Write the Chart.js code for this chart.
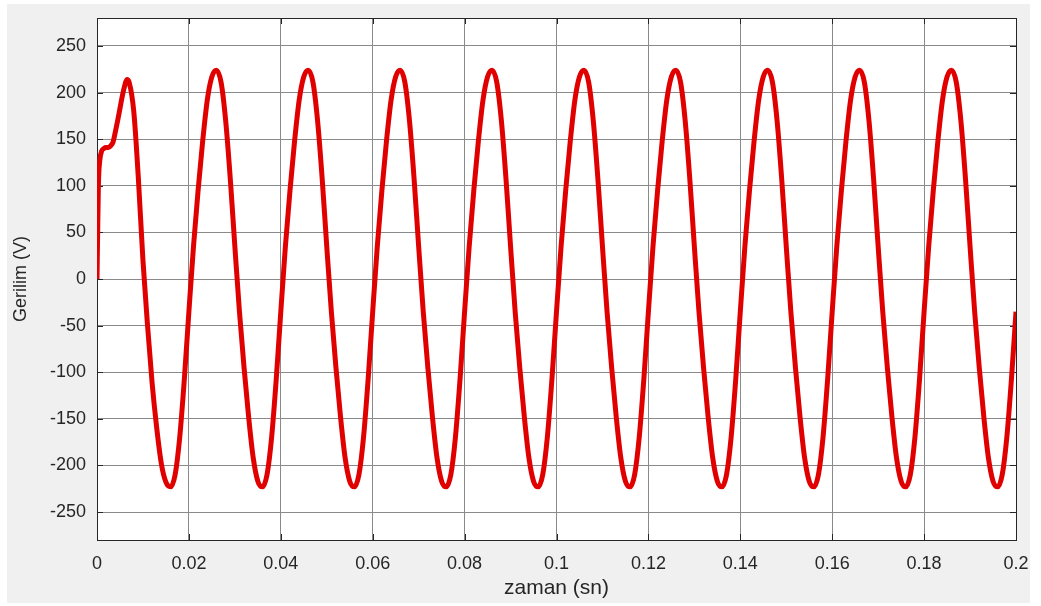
<!DOCTYPE html>
<html>
<head>
<meta charset="utf-8">
<title>Gerilim</title>
<script src="https://cdn.jsdelivr.net/npm/chart.js@4/dist/chart.umd.min.js"></script>
<style>
	html, body { margin: 0; padding: 0; background: #ffffff; }
	canvas { display: block; }
</style>
</head>
<body>
<canvas id="myChart" width="1041" height="606"></canvas>
<script>
// zaman (s)
var zaman = [0, 0.0003, 0.0006, 0.001, 0.0015, 0.002, 0.0025, 0.003, 0.0035, 0.004, 0.0045, 0.005, 0.0055, 0.006, 0.0065, 0.007, 0.008, 0.009, 0.010, 0.011, 0.012, 0.013, 0.014, 0.015,
	0.016, 0.017, 0.018, 0.019, 0.020, 0.021, 0.022, 0.023, 0.024, 0.025, 0.026, 0.027, 0.028, 0.029, 0.030, 0.031, 0.032, 0.033, 0.034, 0.035,
	0.036, 0.037, 0.038, 0.039, 0.040, 0.041, 0.042, 0.043, 0.044, 0.045, 0.046, 0.047, 0.048, 0.049, 0.050, 0.051, 0.052, 0.053, 0.054, 0.055,
	0.056, 0.057, 0.058, 0.059, 0.060, 0.061, 0.062, 0.063, 0.064, 0.065, 0.066, 0.067, 0.068, 0.069, 0.070, 0.071, 0.072, 0.073, 0.074, 0.075,
	0.076, 0.077, 0.078, 0.079, 0.080, 0.081, 0.082, 0.083, 0.084, 0.085, 0.086, 0.087, 0.088, 0.089, 0.090, 0.091, 0.092, 0.093, 0.094, 0.095,
	0.096, 0.097, 0.098, 0.099, 0.100, 0.101, 0.102, 0.103, 0.104, 0.105, 0.106, 0.107, 0.108, 0.109, 0.110, 0.111, 0.112, 0.113, 0.114, 0.115,
	0.116, 0.117, 0.118, 0.119, 0.120, 0.121, 0.122, 0.123, 0.124, 0.125, 0.126, 0.127, 0.128, 0.129, 0.130, 0.131, 0.132, 0.133, 0.134, 0.135,
	0.136, 0.137, 0.138, 0.139, 0.140, 0.141, 0.142, 0.143, 0.144, 0.145, 0.146, 0.147, 0.148, 0.149, 0.150, 0.151, 0.152, 0.153, 0.154, 0.155,
	0.156, 0.157, 0.158, 0.159, 0.160, 0.161, 0.162, 0.163, 0.164, 0.165, 0.166, 0.167, 0.168, 0.169, 0.170, 0.171, 0.172, 0.173, 0.174, 0.175,
	0.176, 0.177, 0.178, 0.179, 0.180, 0.181, 0.182, 0.183, 0.184, 0.185, 0.186, 0.187, 0.188, 0.189, 0.190, 0.191, 0.192, 0.193, 0.194, 0.195,
	0.196, 0.197, 0.198, 0.199, 0.200];

// gerilim (V)
var gerilim = [0, 100, 127, 137, 140, 141, 141, 143, 147, 158, 170, 183, 196, 207, 214, 211, 180, 108, 20, -50, -112, -160, -198, -218,
	-223, -210, -170, -108, -35, 35, 95, 148, 192, 217, 224, 211, 170, 108, 35, -35, -95, -148, -192, -217,
	-223, -210, -170, -108, -35, 35, 95, 148, 192, 217, 224, 211, 170, 108, 35, -35, -95, -148, -192, -217,
	-223, -210, -170, -108, -35, 35, 95, 148, 192, 217, 224, 211, 170, 108, 35, -35, -95, -148, -192, -217,
	-223, -210, -170, -108, -35, 35, 95, 148, 192, 217, 224, 211, 170, 108, 35, -35, -95, -148, -192, -217,
	-223, -210, -170, -108, -35, 35, 95, 148, 192, 217, 224, 211, 170, 108, 35, -35, -95, -148, -192, -217,
	-223, -210, -170, -108, -35, 35, 95, 148, 192, 217, 224, 211, 170, 108, 35, -35, -95, -148, -192, -217,
	-223, -210, -170, -108, -35, 35, 95, 148, 192, 217, 224, 211, 170, 108, 35, -35, -95, -148, -192, -217,
	-223, -210, -170, -108, -35, 35, 95, 148, 192, 217, 224, 211, 170, 108, 35, -35, -95, -148, -192, -217,
	-223, -210, -170, -108, -35, 35, 95, 148, 192, 217, 224, 211, 170, 108, 35, -35, -95, -148, -192, -217,
	-223, -210, -170, -108, -35];

var xTicks = [0, 0.02, 0.04, 0.06, 0.08, 0.1, 0.12, 0.14, 0.16, 0.18, 0.2];
var xTickLabels = ['0', '0.02', '0.04', '0.06', '0.08', '0.1', '0.12', '0.14', '0.16', '0.18', '0.2'];
var yTicks = [-250, -200, -150, -100, -50, 0, 50, 100, 150, 200, 250];
var yTickLabels = ['-250', '-200', '-150', '-100', '-50', '0', '50', '100', '150', '200', '250'];

var points = zaman.map(function(t, i) {
	return { x: t, y: gerilim[i] };
});

var FONT = '"Liberation Sans", Arial, Helvetica, sans-serif';
var AXIS_COLOR = '#262626';

// gray figure panel, white axes, black box with inward ticks
var panelPlugin = {
	id: 'panel',
	beforeDraw: function(chart) {
		var ctx = chart.ctx;
		var a = chart.chartArea;
		ctx.save();
		ctx.fillStyle = '#ffffff';
		ctx.fillRect(0, 0, chart.width, chart.height);
		ctx.fillStyle = '#f0f0f0';
		ctx.fillRect(7, 4, 1023, 599);
		ctx.fillStyle = '#ffffff';
		ctx.fillRect(a.left, a.top, a.right - a.left, a.bottom - a.top);
		ctx.restore();
	},
	beforeDatasetsDraw: function(chart) {
		var ctx = chart.ctx;
		var a = chart.chartArea;
		var sx = chart.scales.x;
		var sy = chart.scales.y;
		ctx.save();
		ctx.strokeStyle = AXIS_COLOR;
		ctx.lineWidth = 1;
		ctx.beginPath();
		yTicks.forEach(function(v) {
			var py = Math.round(sy.getPixelForValue(v)) + 0.5;
			ctx.moveTo(a.left, py);
			ctx.lineTo(a.left + 6, py);
			ctx.moveTo(a.right - 6, py);
			ctx.lineTo(a.right, py);
		});
		xTicks.forEach(function(v) {
			var px = Math.round(sx.getPixelForValue(v)) + 0.5;
			ctx.moveTo(px, a.bottom);
			ctx.lineTo(px, a.bottom - 6);
			ctx.moveTo(px, a.top);
			ctx.lineTo(px, a.top + 6);
		});
		ctx.stroke();
		ctx.strokeRect(Math.round(a.left) + 0.5, Math.round(a.top) + 0.5,
			Math.round(a.right - a.left), Math.round(a.bottom - a.top));
		ctx.restore();
	}
};

var ctx = document.getElementById('myChart');
var myChart = new Chart(ctx, {
	type: 'line',
	data: {
		datasets: [{
			label: 'Gerilim',
			data: points,
			borderColor: '#e00000',
			borderWidth: 5,
			pointRadius: 0,
			fill: false,
			cubicInterpolationMode: 'monotone'
		}]
	},
	options: {
		responsive: false,
		animation: false,
		layout: {
			padding: { left: 7, top: 18, right: 25, bottom: 0 }
		},
		plugins: {
			legend: { display: false },
			tooltip: { enabled: false }
		},
		scales: {
			x: {
				type: 'linear',
				min: 0,
				max: 0.2,
				afterBuildTicks: function(scale) {
					scale.ticks = xTicks.map(function(v) { return { value: v }; });
				},
				afterFit: function(scale) {
					scale.height = 66;
					scale.paddingLeft = 0;
					scale.paddingRight = 0;
				},
				border: { display: false },
				grid: { color: '#8a8a8a', lineWidth: 1, drawTicks: false },
				ticks: {
					padding: 13,
					maxRotation: 0,
					color: AXIS_COLOR,
					font: { family: FONT, size: 18 },
					callback: function(value, index) {
						return xTickLabels[index];
					}
				},
				title: {
					display: true,
					text: 'zaman (sn)',
					color: AXIS_COLOR,
					font: { family: FONT, size: 21 },
					padding: { top: 0, bottom: 5 }
				}
			},
			y: {
				min: -280,
				max: 280,
				afterBuildTicks: function(scale) {
					scale.ticks = yTicks.map(function(v) { return { value: v }; });
				},
				afterFit: function(scale) {
					scale.width = 90;
					scale.paddingTop = 0;
					scale.paddingBottom = 0;
				},
				border: { display: false },
				grid: { color: '#8a8a8a', lineWidth: 1, drawTicks: false },
				ticks: {
					padding: 11,
					color: AXIS_COLOR,
					font: { family: FONT, size: 18 },
					callback: function(value, index) {
						return yTickLabels[index];
					}
				},
				title: {
					display: true,
					text: 'Gerilim (V)',
					color: AXIS_COLOR,
					font: { family: FONT, size: 18 },
					padding: { top: 3, bottom: 0 }
				}
			}
		}
	},
	plugins: [panelPlugin]
});
</script>
</body>
</html>
